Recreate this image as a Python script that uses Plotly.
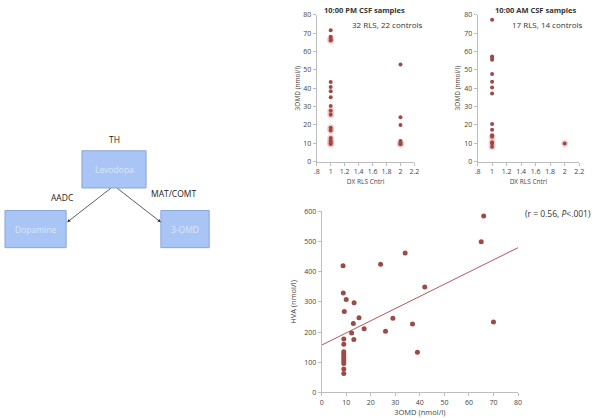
import plotly.graph_objects as go

# ---------------- data ----------------
pm_rls_y = [71.5, 68, 67, 66, 43.3, 40.6, 38.3, 35.1, 30.3, 27.7, 25.5, 18.4, 16.9, 12.9, 11.4, 10.1, 9.6]
pm_ctrl_y = [52.9, 24.1, 19.9, 11.2, 10.1, 9.4]
am_rls_y = [77.3, 57.3, 56.4, 55.5, 47.7, 43.5, 40.4, 37.1, 20.4, 17.4, 14.4, 13.5, 10.5, 9.8, 8.0]
am_ctrl_y = [9.9]
pm_halo_rls = [18.4, 16.9, 12.9, 11.4, 10.1, 9.6, 27.7, 25.5, 67, 66]
pm_halo_ctrl = [10.1, 9.4]
am_halo_rls = [13.5, 10.5, 8.0]
am_halo_ctrl = [9.9]

omd = [8.7, 66, 65, 34, 24, 42, 8.8, 10, 13.2, 9.2, 15.2, 29, 12.9, 37, 70, 17.3, 26, 12.2, 9, 13.1,
       9, 39, 9, 9, 9, 9, 9, 9, 9, 9]
hva = [420, 585, 500, 462, 425, 350, 330, 308, 297, 268, 248, 246, 229, 227, 234, 211, 203, 197, 177, 176,
       160, 133, 135, 128, 120, 112, 104, 96, 78, 63]
trend_x = [0, 80]
trend_y = [157, 480]

dx_ticks = [0.8, 1, 1.2, 1.4, 1.6, 1.8, 2, 2.2]
dx_labels = [".8", "1", "1.2", "1.4", "1.6", "1.8", "2", "2.2"]

nodes = ["Levodopa", "Dopamine", "3-OMD"]
enzymes = ["TH", "AADC", "MAT/COMT"]

# ---------------- styles ----------------
W, H = 600, 418
DOT = "#9c4a46"
HALO = "rgba(235,160,160,0.45)"
AX = "#bdbdbd"
TXT = "#444444"
FONT = "Open Sans"


def px(x):
    return x / W


def py(y):
    return 1 - y / H


fig = go.Figure()


def add_dx(xa, ya, rls, ctrl, halo_r, halo_c):
    fig.add_trace(go.Scatter(x=[1] * len(halo_r) + [2] * len(halo_c), y=halo_r + halo_c, mode="markers",
                             marker=dict(color=HALO, size=7), xaxis=xa, yaxis=ya, hoverinfo="skip"))
    fig.add_trace(go.Scatter(x=[1] * len(rls) + [2] * len(ctrl), y=rls + ctrl, mode="markers",
                             marker=dict(color=DOT, size=4), xaxis=xa, yaxis=ya))


add_dx("x", "y", pm_rls_y, pm_ctrl_y, pm_halo_rls, pm_halo_ctrl)
add_dx("x2", "y2", am_rls_y, am_ctrl_y, am_halo_rls, am_halo_ctrl)

fig.add_trace(go.Scatter(x=trend_x, y=trend_y, mode="lines", line=dict(color="#b05a5a", width=1),
                         xaxis="x3", yaxis="y3"))
fig.add_trace(go.Scatter(x=omd, y=hva, mode="markers", marker=dict(color=DOT, size=5),
                         xaxis="x3", yaxis="y3"))

axcommon = dict(showgrid=False, zeroline=False, showline=True, linecolor=AX, linewidth=1,
                ticks="outside", ticklen=3, tickcolor=AX, tickfont=dict(size=7, color=TXT, family=FONT))

dxx = dict(axcommon, range=[0.8, 2.2], tickvals=dx_ticks, ticktext=dx_labels,
           title=dict(text="DX RLS Cntrl", font=dict(size=6.5, color=TXT, family=FONT), standoff=4))
dxy = dict(axcommon, range=[0, 80], dtick=10,
           title=dict(text="3OMD (nmol/l)", font=dict(size=6.5, color=TXT, family=FONT), standoff=2))

fig.update_layout(
    width=W, height=H, margin=dict(l=0, r=0, t=0, b=0),
    paper_bgcolor="white", plot_bgcolor="white", showlegend=False,
    font=dict(family=FONT, color=TXT),
    xaxis=dict(dxx, domain=[px(318), px(417)], anchor="y"),
    yaxis=dict(dxy, domain=[py(160), py(10)], anchor="x"),
    xaxis2=dict(dxx, domain=[px(481), px(584)], anchor="y2"),
    yaxis2=dict(dxy, domain=[py(160), py(10)], anchor="x2"),
    xaxis3=dict(axcommon, range=[0, 80], dtick=10, domain=[px(323), px(522)], anchor="y3",
                title=dict(text="3OMD (nmol/l)", font=dict(size=7.5, color=TXT, family=FONT), standoff=2)),
    yaxis3=dict(axcommon, range=[0, 600], dtick=100, domain=[py(396), py(211)], anchor="x3",
                title=dict(text="HVA (nmol/l)", font=dict(size=7.5, color=TXT, family=FONT), standoff=6)),
)

# panel titles / notes
notes = [
    ("<b>10:00 PM CSF samples</b>", 366, 5, 7.5, "#333333"),
    ("32 RLS, 22 controls", 390, 20, 8, "#333333"),
    ("<b>10:00 AM CSF samples</b>", 540, 5, 7.5, "#333333"),
    ("17 RLS, 14 controls", 552, 20, 8, "#333333"),
    ("(r = 0.56, <i>P</i><.001)", 563, 213, 8.5, "#333333"),
]
for t, x, y, s, c in notes:
    fig.add_annotation(text=t, x=px(x), y=py(y), xref="paper", yref="paper", showarrow=False,
                       font=dict(size=s, color=c, family=FONT), xanchor="center", yanchor="middle")

# diagram boxes
boxes = {"Levodopa": (80, 149, 145, 187), "Dopamine": (2, 210, 64, 248), "3-OMD": (160, 210, 209, 248)}
for name in nodes:
    x0, y0, x1, y1 = boxes[name]
    fig.add_shape(type="rect", xref="paper", yref="paper", x0=px(x0), x1=px(x1), y0=py(y1), y1=py(y0),
                  fillcolor="#a9c5f5", line=dict(color="#89a6d6", width=1), layer="below")
    fig.add_annotation(text=name, x=px((x0 + x1) / 2), y=py((y0 + y1) / 2), xref="paper", yref="paper",
                       showarrow=False, xanchor="center", yanchor="middle",
                       font=dict(size=8.5, color="#dbe6fb", family=FONT))

enz_pos = {"TH": (113, 137), "AADC": (60, 197), "MAT/COMT": (173, 193)}
for e in enzymes:
    x, y = enz_pos[e]
    fig.add_annotation(text=e, x=px(x), y=py(y), xref="paper", yref="paper", showarrow=False,
                       xanchor="center", yanchor="middle",
                       font=dict(size=8.5, color="#222222", family=FONT))

# arrows (head, tail) in pixels
arrows = [((65, 222), (110, 187)), ((160, 222), (115, 187))]
for (hx, hy), (tx, ty) in arrows:
    fig.add_annotation(x=px(hx), y=py(hy), xref="paper", yref="paper", ax=tx - hx, ay=ty - hy,
                       axref="pixel", ayref="pixel", showarrow=True, arrowhead=2, arrowsize=0.8,
                       arrowwidth=0.8, arrowcolor="#333333", text="")

fig.write_html("out.html", config={"displayModeBar": False},
               post_script="document.body.style.margin='0px';")
